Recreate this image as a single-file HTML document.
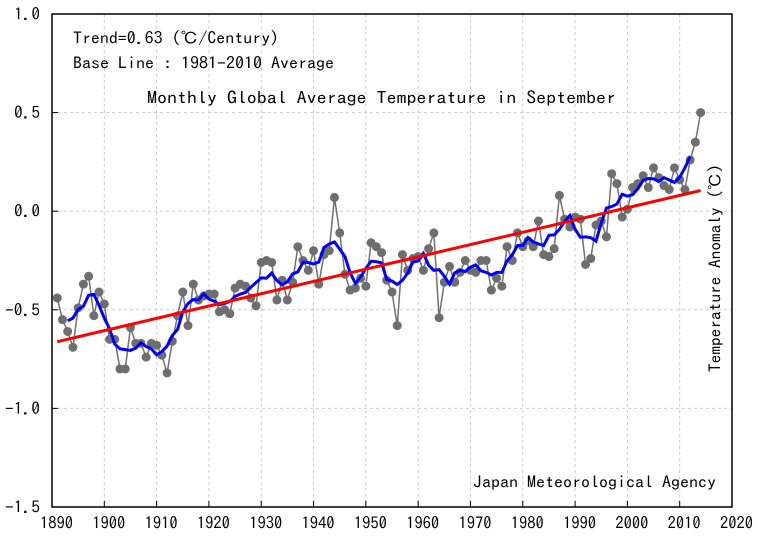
<!DOCTYPE html>
<html><head><meta charset="utf-8"><style>
body{margin:0;background:#fff}
svg{display:block;font-family:"IPAGothic","Liberation Mono","Noto Sans CJK JP",monospace}
</style></head><body>
<svg id="chart" width="758" height="543" viewBox="0 0 758 543"></svg>
<script>
const years=[];for(let y=1891;y<=2014;y++)years.push(y);
const anomalies=[-0.44,-0.55,-0.61,-0.69,-0.49,-0.37,-0.33,-0.53,-0.41,-0.47,
-0.65,-0.65,-0.80,-0.80,-0.59,-0.67,-0.67,-0.74,-0.67,-0.68,
-0.73,-0.82,-0.66,-0.53,-0.41,-0.58,-0.37,-0.45,-0.43,-0.42,
-0.42,-0.51,-0.50,-0.52,-0.39,-0.37,-0.38,-0.44,-0.48,-0.26,
-0.25,-0.26,-0.45,-0.35,-0.45,-0.36,-0.18,-0.25,-0.30,-0.20,
-0.37,-0.22,-0.20,0.07,-0.11,-0.32,-0.40,-0.39,-0.34,-0.38,
-0.16,-0.18,-0.21,-0.35,-0.41,-0.58,-0.22,-0.30,-0.24,-0.23,
-0.30,-0.19,-0.11,-0.54,-0.36,-0.28,-0.36,-0.31,-0.25,-0.30,
-0.31,-0.25,-0.25,-0.40,-0.34,-0.38,-0.18,-0.25,-0.11,-0.18,
-0.15,-0.18,-0.05,-0.22,-0.23,-0.19,0.08,-0.04,-0.08,-0.03,
-0.04,-0.27,-0.24,-0.07,-0.05,-0.13,0.19,0.14,-0.03,0.01,
0.12,0.14,0.18,0.12,0.22,0.17,0.13,0.11,0.22,0.16,
0.11,0.26,0.35,0.50];
const xTicks=[1890,1900,1910,1920,1930,1940,1950,1960,1970,1980,1990,2000,2010,2020];
const yTicks=[1.0,0.5,0.0,-0.5,-1.0,-1.5];

const X0=52,X1=732,Y0=14,Y1=507;
const xs=v=>X0+(v-1890)/(2020-1890)*(X1-X0);
const ys=v=>Y0+(1.0-v)/(2.5)*(Y1-Y0);
const svg=document.getElementById('chart');const NS='http://www.w3.org/2000/svg';
function mk(t,a,p){const e=document.createElementNS(NS,t);for(const k in a)e.setAttribute(k,a[k]);(p||svg).appendChild(e);return e;}

xTicks.forEach(t=>{if(t>1890&&t<2020){const g=mk('line',{x1:xs(t),x2:xs(t),y1:Y0,y2:Y1,stroke:'#ccc','stroke-dasharray':'3,3'});

}});
yTicks.forEach(t=>{if(t<1&&t>-1.5){const g=mk('line',{x1:X0,x2:X1,y1:ys(t),y2:ys(t),stroke:'#ccc','stroke-dasharray':'3,3'});

}});
xTicks.forEach(t=>{mk('line',{x1:xs(t),x2:xs(t),y1:Y1,y2:Y1-6,stroke:'#000'});
const l=mk('text',{x:xs(t)-12,y:Y1+22,'font-size':16,textLength:33,lengthAdjust:'spacingAndGlyphs'});l.textContent=t;

});
yTicks.forEach(t=>{mk('line',{x1:X0,x2:X0+6,y1:ys(t),y2:ys(t),stroke:'#000'});
const s=t.toFixed(1);const w=s.length===4?35:26;
const l=mk('text',{x:40-w,y:ys(t)+6,'font-size':16,textLength:w,lengthAdjust:'spacingAndGlyphs'});l.textContent=s;

});

const n=years.length;let mx=0,my=0;years.forEach((y,i)=>{mx+=y;my+=anomalies[i];});mx/=n;my/=n;
let sxy=0,sxx=0;years.forEach((y,i)=>{sxy+=(y-mx)*(anomalies[i]-my);sxx+=(y-mx)*(y-mx);});
const b=sxy/sxx,a=my-b*mx;
let d='';years.forEach((y,i)=>{d+=(i?'L':'M')+xs(y)+','+ys(anomalies[i]);});
const dl=mk('path',{d:d,fill:'none',stroke:'#707070','stroke-width':1.5});


years.forEach((y,i)=>{const c=mk('circle',{cx:xs(y),cy:ys(anomalies[i]),r:4.5,fill:'#6e6e6e'});

});
let rd='';for(let i=2;i<n-2;i++){let s=0;for(let k=-2;k<=2;k++)s+=anomalies[i+k];rd+=(i>2?'L':'M')+xs(years[i])+','+ys(s/5);}
const rm=mk('path',{d:rd,fill:'none',stroke:'#0000ff','stroke-width':3});


const tl=mk('line',{x1:xs(1891),y1:ys(a+b*1891),x2:xs(2014),y2:ys(a+b*2014),stroke:'#ff0000','stroke-width':3});


const fr=mk('rect',{x:X0,y:Y0,width:X1-X0,height:Y1-Y0,fill:'none',stroke:'#000','stroke-width':1.5});


function txt(s,x,y,size,len,name,extra){const t=mk('text',Object.assign({x:x,y:y,'font-size':size,textLength:len,lengthAdjust:'spacingAndGlyphs'},extra||{}));t.textContent=s;

return t;}
txt('Trend=0.63 (℃/Century)',73,44,16,206,'trend-annotation');
txt('Base Line : 1981-2010 Average',73,69,16,261,'baseline-annotation');
txt('Monthly Global Average Temperature in September',147,104,17,469,'chart-title');
txt('Japan Meteorological Agency',473,488,16,243,'source-label');
txt('Temperature Anomaly (℃)',721,372,16,208,'y-axis-title',{transform:'rotate(-90 721 372)'});
</script>
</body></html>
